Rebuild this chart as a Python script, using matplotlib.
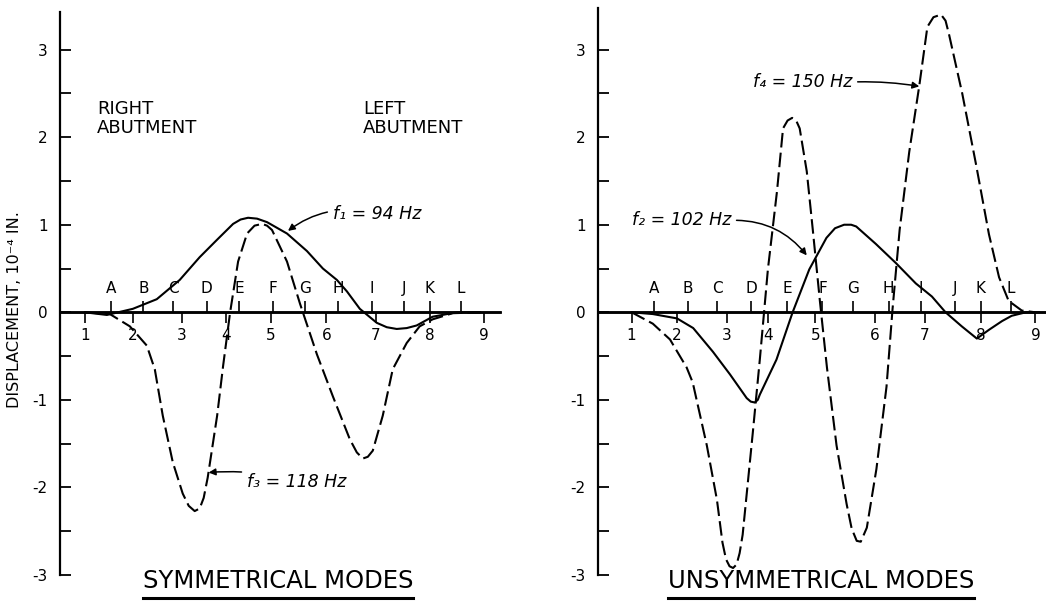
import numpy as np
import matplotlib.pyplot as plt
from matplotlib.lines import Line2D

plt.rcParams['font.family'] = ['DejaVu Sans']
plt.rcParams['axes.unicode_minus'] = False

# y axis (displacement, 10^-4 in.)
y_ticks = [-3, -2, -1, 0, 1, 2, 3]
y_labels = ['-3', '-2', '-1', '0', '1', '2', '3']
y_minor = [-2.5, -1.5, -0.5, 0.5, 1.5, 2.5]

station_labels = ['1', '2', '3', '4', '5', '6', '7', '8', '9']
point_labels = ['A', 'B', 'C', 'D', 'E', 'F', 'G', 'H', 'I', 'J', 'K', 'L']

# symmetrical modes (left panel)
sym_stations = [1.0, 1.96, 2.94, 3.82, 4.72, 5.84, 6.83, 7.91, 9.0]
sym_points = [1.52, 2.17, 2.77, 3.44, 4.09, 4.77, 5.41, 6.08, 6.75, 7.39, 7.91, 8.53]

f1_x = [1.0, 1.44, 1.96, 2.44, 2.90, 3.30, 3.65, 3.97, 4.12, 4.27, 4.45, 4.65,
        5.05, 5.45, 5.77, 6.05, 6.25, 6.51, 6.85, 7.05, 7.25, 7.45, 7.65, 7.97,
        8.45, 8.92]
f1_y = [0.0, -0.03, 0.04, 0.15, 0.37, 0.63, 0.83, 1.01, 1.06, 1.08, 1.07, 1.03,
        0.90, 0.70, 0.50, 0.37, 0.24, 0.04, -0.12, -0.17, -0.19, -0.18, -0.15, -0.05,
        0.0, 0.0]

f3_x = [1.0, 1.50, 1.90, 2.24, 2.40, 2.56, 2.76, 2.96, 3.08, 3.20, 3.30, 3.38,
        3.46, 3.65, 3.77, 3.91, 4.07, 4.25, 4.40, 4.55, 4.65, 4.75, 5.05, 5.31,
        5.65, 5.97, 6.31, 6.45, 6.57, 6.67, 6.77, 6.97, 7.17, 7.45, 7.71, 7.97,
        8.37, 8.92]
f3_y = [0.0, -0.02, -0.16, -0.38, -0.65, -1.18, -1.71, -2.07, -2.21, -2.27, -2.24, -2.12,
        -1.89, -1.18, -0.61, 0.0, 0.58, 0.90, 0.99, 1.01, 0.99, 0.94, 0.58, 0.10,
        -0.48, -0.96, -1.45, -1.60, -1.67, -1.65, -1.58, -1.18, -0.65, -0.35, -0.16, -0.08,
        -0.01, 0.0]

# unsymmetrical modes (right panel)
uns_stations = [1.0, 1.89, 2.88, 3.70, 4.64, 5.82, 6.81, 7.92, 9.0]
uns_points = [1.44, 2.11, 2.70, 3.37, 4.08, 4.78, 5.38, 6.09, 6.73, 7.41, 7.92, 8.51]

f2_x = [1.0, 1.42, 1.90, 2.22, 2.61, 2.95, 3.28, 3.36, 3.44, 3.50, 3.54, 3.87,
        4.19, 4.52, 4.86, 5.03, 5.21, 5.35, 5.45, 5.84, 6.24, 6.63, 6.95, 7.22,
        7.54, 7.84, 8.08, 8.34, 8.53, 8.81, 9.07]
f2_y = [0.0, -0.02, -0.07, -0.18, -0.45, -0.71, -0.98, -1.02, -1.03, -1.00, -0.94, -0.54,
        0.0, 0.49, 0.85, 0.96, 1.0, 1.0, 0.98, 0.78, 0.56, 0.33, 0.18, 0.0,
        -0.16, -0.30, -0.20, -0.10, -0.04, 0.0, 0.0]

f4_x = [1.0, 1.42, 1.76, 2.09, 2.21, 2.49, 2.69, 2.80, 2.87, 2.94, 3.01, 3.08,
        3.14, 3.20, 3.40, 3.54, 3.70, 3.88, 4.00, 4.09, 4.18, 4.26, 4.33, 4.47,
        4.59, 4.73, 4.87, 5.06, 5.26, 5.36, 5.46, 5.54, 5.66, 5.85, 6.05, 6.17,
        6.31, 6.50, 6.70, 6.86, 6.98, 7.13, 7.22, 7.29, 7.55, 7.82, 8.08, 8.28,
        8.47, 8.73, 9.0]
f4_y = [0.0, -0.13, -0.31, -0.63, -0.80, -1.52, -2.14, -2.63, -2.82, -2.90, -2.92, -2.88,
        -2.75, -2.54, -1.38, -0.54, 0.49, 1.38, 2.10, 2.19, 2.22, 2.19, 2.10, 1.61,
        0.94, 0.13, -0.63, -1.52, -2.19, -2.47, -2.61, -2.62, -2.46, -1.79, -0.85, 0.04,
        0.94, 1.83, 2.59, 3.26, 3.37, 3.40, 3.33, 3.17, 2.50, 1.70, 0.89, 0.40,
        0.13, 0.02, 0.0]

W, H = 1046, 607
fig = plt.figure(figsize=(W / 100, H / 100), dpi=100)

dash = (7, 2.5)
lw = 1.5


def setup_axes(rect, xlim, ylim, stations, points):
    ax = fig.add_axes(rect)
    ax.set_xlim(xlim)
    ax.set_ylim(ylim)
    ax.patch.set_visible(False)
    for s in ['top', 'right']:
        ax.spines[s].set_visible(False)
    ax.spines['left'].set_linewidth(1.6)
    ax.spines['bottom'].set_position(('data', 0))
    ax.spines['bottom'].set_linewidth(1.8)
    ax.set_yticks(y_ticks, labels=y_labels)
    ax.set_yticks(y_minor, minor=True)
    ax.tick_params(axis='y', which='both', direction='in', length=8, width=1.3,
                   labelsize=11, pad=9)
    ax.set_xticks(stations, labels=station_labels)
    ax.tick_params(axis='x', direction='out', length=8, width=1.2,
                   labelsize=11, pad=3)
    # letters above the axis line
    ax2 = ax.twiny()
    ax2.set_xlim(xlim)
    for s in ['left', 'right', 'bottom']:
        ax2.spines[s].set_visible(False)
    ax2.spines['top'].set_position(('data', 0))
    ax2.spines['top'].set_linewidth(1.8)
    ax2.set_xticks(points, labels=point_labels)
    ax2.tick_params(axis='x', direction='out', length=8, width=1.2,
                    labelsize=11, pad=4)
    return ax


bottom = 1 - 575 / H
ax_l = setup_axes([60 / W, bottom, 440 / W, 563 / H], (0.5, 9.32), (-3, 3.43),
                  sym_stations, sym_points)
ax_r = setup_axes([598 / W, bottom, 448 / W, 567 / H], (0.334, 9.21), (-3, 3.475),
                  uns_stations, uns_points)

line_kw = dict(color='black', lw=lw, zorder=3, solid_joinstyle='round',
               dash_joinstyle='round')
ax_l.plot(f1_x, f1_y, **line_kw)
ax_l.plot(f3_x, f3_y, dashes=dash, **line_kw)
ax_r.plot(f2_x, f2_y, **line_kw)
ax_r.plot(f4_x, f4_y, dashes=dash, **line_kw)

arrow = dict(arrowstyle='-|>', color='black', lw=1.1, mutation_scale=10,
             shrinkA=2, shrinkB=0)
lab = dict(fontsize=12.5, style='italic', va='center')

ax_l.annotate('f\u2081 = 94 Hz', xy=(5.07, 0.93), xytext=(5.97, 1.12), ha='left',
              arrowprops=dict(arrow, connectionstyle='arc3,rad=0.25'), **lab)
ax_l.annotate('f\u2083 = 118 Hz', xy=(3.48, -1.83), xytext=(4.25, -1.94), ha='left',
              arrowprops=dict(arrow, connectionstyle='arc3,rad=0.1'), **lab)
ax_r.annotate('f\u2082 = 102 Hz', xy=(4.47, 0.65), xytext=(1.0, 1.05), ha='left',
              arrowprops=dict(arrow, connectionstyle='arc3,rad=-0.25',
                              relpos=(1.0, 0.5)), **lab)
ax_r.annotate('f\u2084 = 150 Hz', xy=(6.70, 2.58), xytext=(3.40, 2.63), ha='left',
              arrowprops=dict(arrow, connectionstyle='arc3,rad=-0.05',
                              relpos=(1.0, 0.5)), **lab)

ax_l.text(1.24, 2.21, 'RIGHT\nABUTMENT', fontsize=13, va='center', ha='left',
          linespacing=1.05)
ax_l.text(6.57, 2.21, 'LEFT\nABUTMENT', fontsize=13, va='center', ha='left',
          linespacing=1.05)

fig.text(15 / W, 1 - 310 / H, 'DISPLACEMENT, 10\u207b\u2074 IN.', rotation=90,
         fontsize=11.5, ha='center', va='center')

titles = [fig.text(278 / W, 1 - 581 / H, 'SYMMETRICAL MODES', fontsize=17.5,
                   ha='center', va='center'),
          fig.text(821 / W, 1 - 581 / H, 'UNSYMMETRICAL MODES', fontsize=17.5,
                   ha='center', va='center')]

# underline the titles
renderer = fig.canvas.get_renderer()
for t in titles:
    bb = t.get_window_extent(renderer)
    y = (bb.y0 - 5) / H
    fig.add_artist(Line2D([bb.x0 / W, bb.x1 / W], [y, y], color='black', lw=2.2))

fig.savefig('out.png', dpi=100)
